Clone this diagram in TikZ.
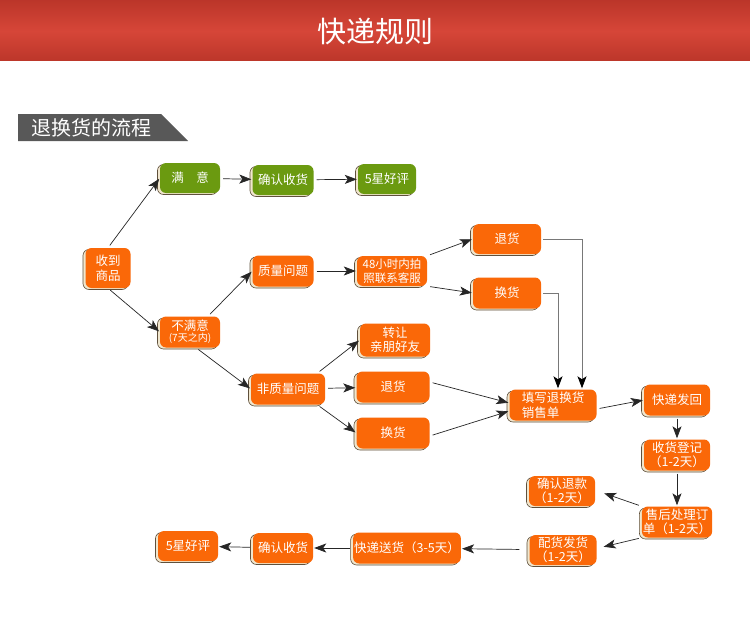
\documentclass[tikz,border=0pt]{standalone}
\usepackage{fontspec}
\newfontfamily\cjk{Noto Sans CJK SC}
\usetikzlibrary{arrows.meta,shadows}
\definecolor{orangec}{RGB}{250,104,8}
\definecolor{greenc}{RGB}{107,154,16}
\definecolor{shfill}{RGB}{240,230,205}
\definecolor{shdraw}{RGB}{95,80,60}
\definecolor{hdrdark}{RGB}{188,54,42}
\definecolor{hdrmid}{RGB}{214,70,56}
\definecolor{tabgray}{RGB}{88,88,88}
\definecolor{linegray}{RGB}{120,120,120}
\tikzset{
  box/.style={rounded corners=6pt, fill=orangec, text=white, align=center,
    font=\cjk\fontsize{12.5}{14.5}\selectfont, inner sep=1pt,
    general shadow={fill=shfill, draw=shdraw, line width=0.6pt, shadow xshift=-2.5pt, shadow yshift=-1.5pt}},
  gbox/.style={box, fill=greenc},
  sz/.style 2 args={minimum width=#1pt, minimum height=#2pt},
  conn/.style={draw=black!85, line width=0.7pt, -{Stealth[length=12pt,width=9pt,inset=3pt]}, shorten >=1pt, shorten <=3pt},
  gconn/.style={draw=linegray, line width=0.8pt, -{Stealth[length=12pt,width=9pt,inset=3pt,color=black]}, shorten >=1pt},
}
\begin{document}
\begin{tikzpicture}[x=1pt,y=-1pt]
\useasboundingbox (0,0) rectangle (750,618);
\fill[white] (0,0) rectangle (750,618);
% header
\shade[top color=hdrdark, bottom color=hdrdark, middle color=hdrmid] (0,1) rectangle (750,61);
\node[text=white, font=\cjk\fontsize{29}{32}\selectfont] (title) at (375,31) {快递规则};
% tab
\fill[tabgray] (18,114) -- (161,114) -- (188,141) -- (18,141) -- cycle;
\node[text=white, font=\cjk\fontsize{20}{22}\selectfont, anchor=west] (tab) at (28,127.5) {退换货的流程};
% nodes
\node[gbox, sz={60}{30}] (my) at (190,178) {满\quad 意};
\node[gbox, sz={61}{30}] (qr1) at (283,180) {确认收货};
\node[gbox, sz={58}{30}] (hp1) at (387,179) {5星好评};
\node[box, sz={45}{40}] (sd) at (108,268) {收到\\商品};
\node[box, sz={60}{31}, font=\cjk\fontsize{12.5}{12}\selectfont] (bmy) at (190,332) {不满意\\[-1pt]{\fontsize{10}{10}\selectfont (7天之内)}};
\node[box, sz={61}{31}] (zl) at (283,271) {质量问题};
\node[box, sz={70}{30}, font=\cjk\fontsize{11.5}{13.5}\selectfont] (h48) at (392,271) {48小时内拍\\照联系客服};
\node[box, sz={68}{30}] (tht) at (507,239) {退货};
\node[box, sz={68}{31}] (hht) at (507,293) {换货};
\node[box, sz={70}{33}] (zr) at (395,340) {转让\\亲朋好友};
\node[box, sz={74}{31}] (fzl) at (288,389) {非质量问题};
\node[box, sz={73}{31}] (thm) at (393,387) {退货};
\node[box, sz={73}{31}] (hhm) at (393,433) {换货};
\node[box, sz={87}{31}, align=left] (tx) at (553,405) {填写退换货\\销售单};
\node[box, sz={66}{31}] (kd) at (677,400) {快递发回};
\node[box, sz={66}{31}] (sh) at (677,455) {收货登记\\（1-2天）};
\node[box, sz={65}{31}] (shcl) at (677,522) {售后处理订\\单（1-2天）};
\node[box, sz={66}{30}] (tk) at (562,491) {确认退款\\（1-2天）};
\node[box, sz={67}{30}] (ph) at (563,550) {配货发货\\（1-2天）};
\node[box, sz={100}{31}] (ks) at (407,548) {快递送货（3-5天）};
\node[box, sz={60}{30}] (qr2) at (283,548) {确认收货};
\node[box, sz={60}{30}] (hp2) at (188,546) {5星好评};
% connectors
\draw[conn] (sd.north) -- (my.west);
\draw[conn] (sd.south) -- (bmy.west);
\draw[conn] (my) -- (qr1);
\draw[conn] (qr1) -- (hp1);
\draw[conn] ([xshift=18pt]bmy.north) -- (zl.west);
\draw[conn] ([xshift=6pt]bmy.south) -- (fzl.west);
\draw[conn] (zl) -- (h48);
\draw[conn] (h48.north east) -- (tht.west);
\draw[conn] (h48.south east) -- (hht.west);
\draw[conn] ([xshift=-8pt]fzl.north east) -- (zr.west);
\draw[conn] (fzl) -- (thm);
\draw[conn] ([xshift=-8pt]fzl.south east) -- (hhm.west);
\draw[conn] ([yshift=5pt]thm.east) -- ([yshift=2pt]tx.west);
\draw[conn] ([yshift=-3pt]hhm.east) -- ([yshift=-6pt]tx.west);
\draw[gconn, shorten <=2pt] (tht.east) -| ([xshift=29pt]tx.north);
\draw[gconn, shorten <=2pt] (hht.east) -| ([xshift=5pt]tx.north);
\draw[conn] ([yshift=-4pt]tx.east) -- (kd.west);
\draw[conn] (kd) -- (sh);
\draw[conn] (sh) -- (shcl);
\draw[conn] (shcl.north west) -- ([yshift=-2pt,xshift=8pt]tk.east);
\draw[conn] (shcl.south west) -- ([yshift=3pt,xshift=6pt]ph.east);
\draw[conn, shorten <=10pt] (ph) -- (ks);
\draw[conn] (ks) -- (qr2);
\draw[conn] (qr2) -- (hp2);
\end{tikzpicture}
\end{document}
